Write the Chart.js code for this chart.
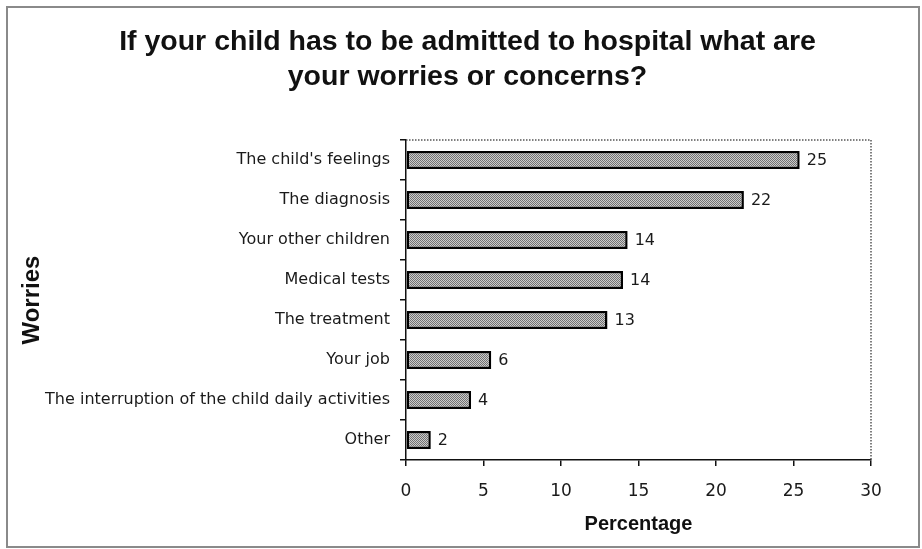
<!DOCTYPE html>
<html>
<head>
<meta charset="utf-8">
<title>Worries</title>
<script src="https://cdn.jsdelivr.net/npm/chart.js@4"></script>
<style>
  body { margin: 0; background: #fff; }
  #wrap { position: relative; width: 922px; height: 549px; }
  #grafico { position: absolute; left: 0; top: 0; }
  #moldura { position: absolute; left: 6px; top: 6px; width: 910px; height: 538px; border: 2px solid #8a8a8a; pointer-events: none; }
</style>
</head>
<body>
<div id="wrap">
  <canvas id="grafico" width="922" height="549"></canvas>
  <div id="moldura"></div>
</div>
<script>
const worries = [
  "The child's feelings",
  "The diagnosis",
  "Your other children",
  "Medical tests",
  "The treatment",
  "Your job",
  "The interruption of the child daily activities",
  "Other"
];
const percentages = [25.4, 21.8, 14.3, 14.0, 13.0, 5.5, 4.2, 1.6];
const valueLabels = ["25", "22", "14", "14", "13", "6", "4", "2"];
const xTicks = [0, 5, 10, 15, 20, 25, 30];
const titleLines = ["If your child has to be admitted to hospital what are", "your worries or concerns?"];

// hachura cinza das barras
function makePattern() {
  const c = document.createElement("canvas");
  c.width = 2; c.height = 2;
  const g = c.getContext("2d");
  g.fillStyle = "#cbcbcb"; g.fillRect(0, 0, 2, 2);
  g.fillStyle = "#727272"; g.fillRect(0, 0, 1, 1); g.fillRect(1, 1, 1, 1);
  return g.createPattern(c, "repeat");
}

const extras = {
  id: "extras",
  afterLayout(chart) {
    // o titulo original fica um pouco a direita
    const t = chart.titleBlock;
    if (t) { t.left += 23; t.right += 23; }
  },
  beforeDatasetsDraw(chart) {
    const { ctx, chartArea: a } = chart;
    ctx.save();
    ctx.strokeStyle = "#555";
    ctx.lineWidth = 1.5;
    ctx.setLineDash([1.5, 1.5]);
    ctx.beginPath();
    ctx.moveTo(a.left, a.top);
    ctx.lineTo(a.right, a.top);
    ctx.lineTo(a.right, a.bottom);
    ctx.stroke();
    ctx.restore();
  },
  afterDatasetsDraw(chart) {
    const { ctx } = chart;
    ctx.save();
    ctx.font = "16px 'DejaVu Sans'";
    ctx.fillStyle = "#1a1a1a";
    ctx.textBaseline = "middle";
    chart.getDatasetMeta(0).data.forEach((bar, i) => {
      ctx.fillText(valueLabels[i], bar.x + 7, bar.y + 1);
    });
    ctx.restore();
  }
};

new Chart(document.getElementById("grafico"), {
  type: "bar",
  data: {
    labels: worries,
    datasets: [{
      data: percentages,
      backgroundColor: makePattern(),
      borderColor: "#000",
      borderWidth: 2.5,
      borderSkipped: false,
      barPercentage: 0.45,
      categoryPercentage: 1.0
    }]
  },
  options: {
    indexAxis: "y",
    responsive: false,
    animation: false,
    devicePixelRatio: 1,
    layout: { padding: { left: 18, right: 51, top: 10, bottom: 10 } },
    plugins: {
      legend: { display: false },
      tooltip: { enabled: false },
      title: {
        display: true,
        text: titleLines,
        color: "#111",
        font: { family: "'Liberation Sans', Arial, sans-serif", size: 28.5, weight: "bold", lineHeight: 1.23 },
        padding: { top: 15, bottom: 45 }
      }
    },
    scales: {
      x: {
        min: 0,
        max: 30,
        afterBuildTicks: (scale) => { scale.ticks = xTicks.map(v => ({ value: v })); },
        afterFit: (scale) => { scale.height = 79; },
        border: { color: "#111", width: 1.5 },
        grid: { drawOnChartArea: false, drawTicks: true, tickLength: 6, color: "#111", lineWidth: 1.5 },
        ticks: { color: "#1a1a1a", padding: 15, font: { family: "'DejaVu Sans'", size: 17 } },
        title: {
          display: true,
          text: "Percentage",
          color: "#111",
          font: { family: "'Liberation Sans', Arial, sans-serif", size: 20, weight: "bold" },
          padding: { top: 0, bottom: 3 }
        }
      },
      y: {
        afterFit: (scale) => { scale.width = 388; },
        border: { color: "#111", width: 1.5 },
        grid: { drawOnChartArea: false, drawTicks: true, tickLength: 6, color: "#111", lineWidth: 1.5 },
        ticks: { color: "#1a1a1a", padding: 10, font: { family: "'DejaVu Sans'", size: 16 } },
        title: {
          display: true,
          text: "Worries",
          color: "#111",
          font: { family: "'Liberation Sans', Arial, sans-serif", size: 24, weight: "bold" },
          padding: { top: 0, bottom: 0 }
        }
      }
    }
  },
  plugins: [extras]
});
</script>
</body>
</html>
